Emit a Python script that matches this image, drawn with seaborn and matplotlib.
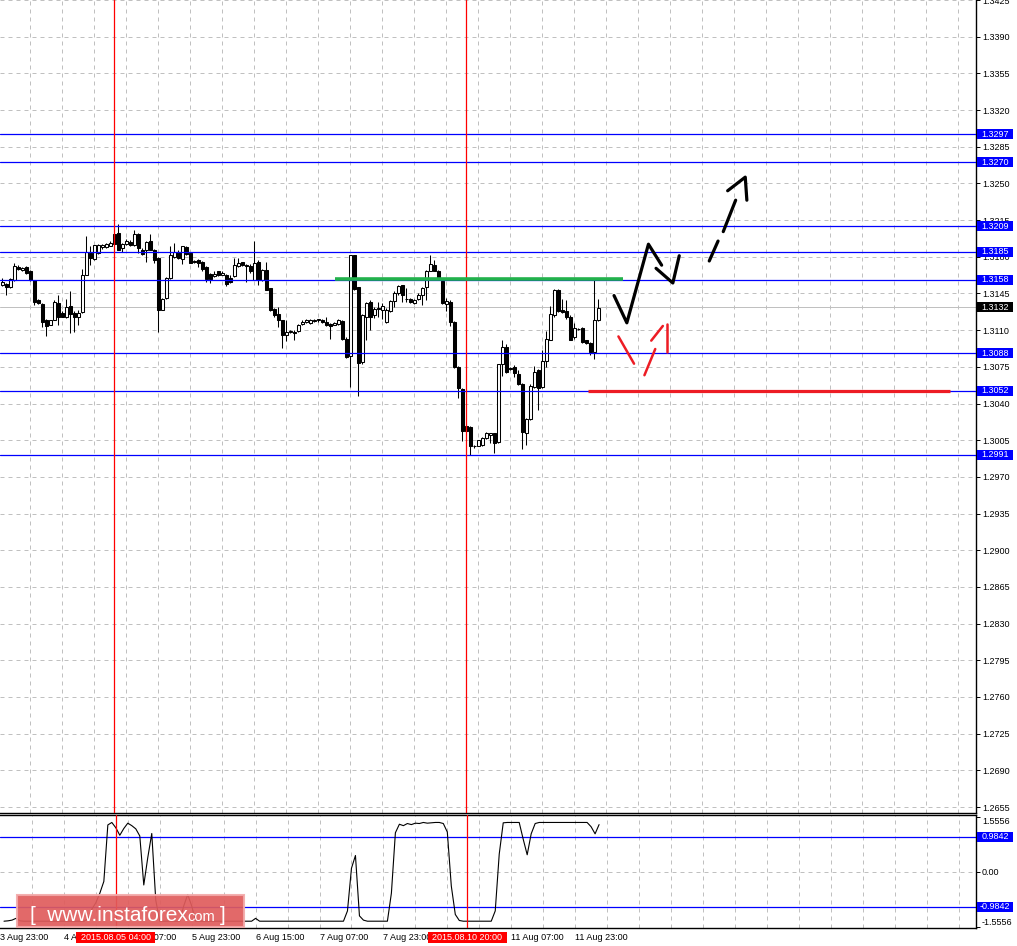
import matplotlib
matplotlib.use("Agg")
import matplotlib.pyplot as plt
from matplotlib.patches import Rectangle
import numpy as np
import pandas as pd
import seaborn as sns

sns.set_style("white")
plt.rcParams['font.family'] = ['Liberation Sans', 'DejaVu Sans']

W, H = 1017, 946

# GBPUSD H1 свечи, цены в пунктах (13153 -> 1.3153)
opens = [13153, 13154, 13151, 13158, 13170, 13167, 13170, 13166, 13158, 13139,
         13135, 13120, 13115, 13120, 13136, 13126, 13123, 13133, 13126, 13123,
         13127, 13163, 13184, 13178, 13184, 13189, 13189, 13190, 13202, 13203,
         13188, 13192, 13194, 13191, 13202, 13186, 13186, 13195, 13186, 13179,
         13129, 13141, 13160, 13180, 13185, 13178, 13189, 13184, 13176, 13177,
         13175, 13170, 13164, 13162, 13166, 13163, 13163, 13160, 13162, 13171,
         13175, 13172, 13171, 13158, 13175, 13158, 13167, 13150, 13130, 13125,
         13120, 13105, 13108, 13108, 13109, 13116, 13118, 13117, 13119, 13120,
         13120, 13118, 13116, 13115, 13116, 13119, 13102, 13085, 13182, 13151,
         13080, 13123, 13137, 13124, 13131, 13129, 13118, 13128, 13138, 13145,
         13153, 13140, 13140, 13136, 13140, 13144, 13151, 13166, 13172, 13166,
         13157, 13135, 13137, 13118, 13075, 13054, 13019, 13018, 12999, 12999,
         13000, 13007, 13010, 13012, 13003, 13078, 13094, 13074, 13075, 13068,
         13059, 13012, 13025, 13056, 13072, 13056, 13081, 13101, 13124, 13148,
         13129, 13128, 13123, 13103, 13111, 13112, 13101, 13098, 13089, 13120]
highs = [13160, 13155, 13160, 13174, 13172, 13170, 13171, 13167, 13158, 13140,
         13136, 13121, 13120, 13139, 13144, 13128, 13140, 13147, 13128, 13129,
         13168, 13200, 13190, 13191, 13192, 13192, 13193, 13195, 13202, 13211,
         13193, 13197, 13196, 13206, 13203, 13188, 13195, 13202, 13187, 13180,
         13141, 13161, 13190, 13193, 13186, 13190, 13190, 13185, 13177, 13178,
         13176, 13171, 13165, 13166, 13166, 13166, 13164, 13163, 13179, 13179,
         13175, 13173, 13173, 13195, 13177, 13168, 13175, 13150, 13131, 13132,
         13120, 13120, 13110, 13110, 13116, 13120, 13121, 13121, 13121, 13121,
         13121, 13123, 13117, 13118, 13121, 13120, 13103, 13182, 13182, 13151,
         13125, 13137, 13139, 13132, 13137, 13136, 13131, 13139, 13147, 13153,
         13153, 13150, 13141, 13140, 13145, 13151, 13167, 13182, 13177, 13167,
         13158, 13141, 13139, 13119, 13076, 13055, 13020, 13019, 13000, 13005,
         13008, 13013, 13012, 13012, 13078, 13101, 13097, 13075, 13077, 13072,
         13060, 13026, 13059, 13076, 13073, 13091, 13109, 13133, 13149, 13149,
         13140, 13139, 13124, 13117, 13112, 13113, 13101, 13099, 13158, 13140]
lows = [13152, 13144, 13150, 13157, 13167, 13166, 13164, 13157, 13134, 13135,
        13113, 13104, 13115, 13120, 13115, 13123, 13122, 13107, 13108, 13115,
        13126, 13163, 13172, 13177, 13183, 13187, 13188, 13190, 13191, 13186,
        13185, 13191, 13190, 13190, 13184, 13182, 13175, 13186, 13174, 13108,
        13129, 13140, 13159, 13179, 13178, 13173, 13182, 13174, 13174, 13170,
        13166, 13156, 13155, 13161, 13162, 13163, 13152, 13155, 13161, 13170,
        13171, 13156, 13165, 13158, 13153, 13157, 13148, 13128, 13123, 13113,
        13093, 13100, 13107, 13101, 13108, 13115, 13117, 13116, 13118, 13118,
        13117, 13114, 13102, 13115, 13115, 13101, 13083, 13056, 13148, 13047,
        13078, 13101, 13110, 13122, 13123, 13121, 13117, 13127, 13132, 13144,
        13137, 13137, 13136, 13135, 13139, 13134, 13139, 13166, 13166, 13159,
        13135, 13128, 13114, 13074, 13045, 13004, 13013, 12991, 12998, 12999,
        12999, 13006, 13002, 12993, 13002, 13066, 13069, 13072, 13065, 13058,
        12997, 13000, 13024, 13055, 13034, 13055, 13075, 13101, 13123, 13127,
        13126, 13121, 13101, 13102, 13110, 13098, 13097, 13086, 13082, 13119]
closes = [13156, 13151, 13159, 13171, 13168, 13169, 13165, 13158, 13137, 13136,
          13118, 13114, 13120, 13137, 13123, 13123, 13132, 13125, 13123, 13126,
          13163, 13185, 13179, 13191, 13191, 13191, 13192, 13193, 13192, 13186,
          13192, 13195, 13191, 13202, 13188, 13183, 13194, 13186, 13177, 13129,
          13140, 13160, 13182, 13185, 13179, 13190, 13183, 13174, 13175, 13174,
          13168, 13159, 13159, 13164, 13163, 13165, 13154, 13156, 13172, 13174,
          13172, 13171, 13166, 13174, 13158, 13167, 13148, 13129, 13124, 13120,
          13105, 13108, 13109, 13107, 13115, 13118, 13120, 13120, 13120, 13120,
          13118, 13115, 13114, 13117, 13120, 13102, 13084, 13182, 13149, 13079,
          13124, 13136, 13123, 13130, 13130, 13133, 13129, 13138, 13145, 13152,
          13144, 13140, 13137, 13139, 13144, 13150, 13166, 13173, 13166, 13160,
          13136, 13138, 13118, 13075, 13055, 13014, 13014, 12999, 12999, 13005,
          13007, 13012, 13012, 13002, 13078, 13094, 13070, 13073, 13069, 13059,
          13013, 13025, 13057, 13070, 13055, 13081, 13102, 13125, 13148, 13128,
          13127, 13123, 13101, 13112, 13111, 13099, 13098, 13089, 13120, 13131]

# индикатор в нижнем окне
ind = [-1.39, -1.38, -1.36, -1.31, -1.38, -1.39, -1.39, -1.39, -1.39, -1.39,
       -1.39, -1.39, -1.39, -1.39, -1.39, -1.39, -1.39, -1.39, -1.39, -1.39,
       -1.39, -1.33, -1.05, -0.87, -0.60, -0.27, 1.32, 1.39, 1.24, 1.03,
       1.22, 1.37, 1.30, 1.21, 1.01, -0.37, 0.40, 1.08, -0.80, -1.39,
       -1.39, -1.39, -1.39, -1.39, -1.39, -0.96, -0.64, -0.96, -1.39, -1.39,
       -1.39, -1.39, -1.39, -1.39, -1.39, -1.39, -1.39, -1.39, -1.39, -1.39,
       -1.39, -1.39, -1.39, -1.31, -1.39, -1.39, -1.39, -1.39, -1.39, -1.39,
       -1.39, -1.39, -1.39, -1.39, -1.39, -1.39, -1.39, -1.39, -1.39, -1.39,
       -1.39, -1.39, -1.39, -1.39, -1.39, -1.39, -1.10, 0.10, 0.46, -1.24,
       -1.36, -1.39, -1.39, -1.39, -1.39, -1.39, -1.39, -0.60, 1.10, 1.34,
       1.30, 1.36, 1.33, 1.37, 1.36, 1.39, 1.37, 1.38, 1.39, 1.39,
       1.36, 1.12, -0.40, -1.20, -1.37, -1.39, -1.39, -1.39, -1.39, -1.39,
       -1.39, -1.39, -1.39, -1.10, 0.50, 1.38, 1.39, 1.39, 1.39, 1.39,
       0.92, 0.48, 1.07, 1.36, 1.39, 1.39, 1.39, 1.39, 1.39, 1.39,
       1.39, 1.39, 1.39, 1.39, 1.39, 1.39, 1.39, 1.27, 1.07, 1.33]

levels = [1.3297, 1.3270, 1.3209, 1.3185, 1.3158, 1.3088, 1.3052, 1.2991]
last_price = 1.3132
price_ticks = [1.3425, 1.3390, 1.3355, 1.3320, 1.3285, 1.3250, 1.3215, 1.3180,
               1.3145, 1.3110, 1.3075, 1.3040, 1.3005, 1.2970, 1.2935, 1.2900,
               1.2865, 1.2830, 1.2795, 1.2760, 1.2725, 1.2690, 1.2655]
ind_levels = [0.9842, -0.9842]
ind_ticks = [1.5556, 0.0, -1.5556]
ind_tick_labels = ["1.5556", "0.00", "-1.5556"]
time_ticks = [-1, 15, 31, 47, 63, 79, 95, 111, 127, 143]
time_labels = ["3 Aug 23:00", "4 Aug 15:00", "5 Aug 07:00", "5 Aug 23:00",
               "6 Aug 15:00", "7 Aug 07:00", "7 Aug 23:00", "10 Aug 15:00",
               "11 Aug 07:00", "11 Aug 23:00"]
grid_bars = list(range(7, 244, 8))
marker_bars = [28, 116]
marker_labels = ["2015.08.05 04:00", "2015.08.10 20:00"]

green_bars, green_level = [83.2, 155.2], 1.3159
support_bars, support_level = [146.4, 237], 1.3052

# сценарии (бар, цена)
black_paths = [
    [(152.9, 1.3143), (156.1, 1.3117), (161.5, 1.3192), (164.8, 1.3172)],
    [(163.4, 1.3169), (167.6, 1.3155), (169.2, 1.3181)],
    [(176.7, 1.3176), (178.9, 1.3195)],
    [(180.2, 1.3204), (183.3, 1.3234)],
    [(181.3, 1.3243), (185.7, 1.3256), (186.1, 1.3234)],
]
red_paths = [
    [(154.0, 1.3104), (157.9, 1.3078)],
    [(160.5, 1.3067), (163.2, 1.3092)],
    [(162.2, 1.3100), (165.1, 1.3114)],
    [(166.2, 1.3116), (166.2, 1.3089)],
]

df = pd.DataFrame({"open": opens, "high": highs, "low": lows, "close": closes}) / 10000
df["bar"] = np.arange(len(df))
df["ind"] = ind
up = df["close"] >= df["open"]

grid_kw = dict(color="#c0c0c0", lw=0.72, ls=(0, (4, 4)), zorder=0.5)
BLUE = "#0000ff"

fig = plt.figure(figsize=(W / 100, H / 100), dpi=100)
ax = fig.add_axes([0, 1 - 812.7 / H, 975.7 / W, 812.7 / H])
ax2 = fig.add_axes([0, 1 - 928.3 / H, 975.7 / W, (928.3 - 815) / H])

# --- основное окно
for k in grid_bars:
    ax.axvline(k, **grid_kw)
for p in price_ticks:
    ax.axhline(p, **grid_kw)
ax.axhline(last_price, color="#c0c0c0", lw=0.72, zorder=0.8)

ax.vlines(df["bar"], df["low"], df["high"], color="black", lw=0.75, zorder=3)
body_lo = df[["open", "close"]].min(axis=1)
body_h = (df["close"] - df["open"]).abs().clip(lower=0.00002)
ax.bar(df["bar"][up], body_h[up], bottom=body_lo[up], width=0.6,
       color="white", edgecolor="black", lw=0.75, zorder=4)
ax.bar(df["bar"][~up], body_h[~up], bottom=body_lo[~up], width=0.6,
       color="black", edgecolor="black", lw=0.75, zorder=4)

for lv in levels:
    ax.axhline(lv, color=BLUE, lw=0.9, zorder=5)
for k in marker_bars:
    ax.axvline(k, color="#ff0000", lw=0.9, zorder=5)

ax.plot(green_bars, [green_level] * 2, color="#22b14c", lw=2.6, zorder=6,
        solid_capstyle="butt")
ax.plot(support_bars, [support_level] * 2, color="#ed1c24", lw=2.3, zorder=6,
        solid_capstyle="butt")
for path in black_paths:
    xs, ys = zip(*path)
    ax.plot(xs, ys, color="black", lw=2.3, zorder=7)
for path in red_paths:
    xs, ys = zip(*path)
    ax.plot(xs, ys, color="#ed1c24", lw=1.8, zorder=7)

ax.set_xlim(-0.58, 243.3)
ax.set_ylim(1.26496, 1.3425)
ax.set_xticks([])
ax.yaxis.tick_right()
ax.set_yticks(price_ticks)
ax.set_yticklabels([f"{p:.4f}" for p in price_ticks])
ax.tick_params(axis="y", length=3, width=0.7, pad=1.5, labelsize=6.5,
               direction="out", colors="black")
for s in ["left", "top"]:
    ax.spines[s].set_visible(False)
for s in ["right", "bottom"]:
    ax.spines[s].set_color("black")
    ax.spines[s].set_linewidth(1)

# --- индикатор
for k in grid_bars:
    ax2.axvline(k, **grid_kw)
ax2.axhline(0, **grid_kw)
for lv in ind_levels:
    ax2.axhline(lv, color=BLUE, lw=0.9, zorder=2)
for k in marker_bars:
    ax2.axvline(k, color="#ff0000", lw=0.9, zorder=5)
sns.lineplot(data=df, x="bar", y="ind", ax=ax2, color="black", lw=0.8, zorder=4)

ax2.set_xlim(-0.58, 243.3)
ax2.set_ylim(-1.59, 1.60)
ax2.set_xlabel("")
ax2.set_ylabel("")
ax2.yaxis.tick_right()
ax2.set_yticks(ind_ticks)
ax2.set_yticklabels(ind_tick_labels)
ax2.tick_params(axis="y", length=3, width=0.7, pad=1.5, labelsize=6.5,
                direction="out", colors="black")
tl = ax2.get_yticklabels()
tl[0].set_va("top")
tl[-1].set_va("bottom")
ax2.set_xticks(time_ticks)
ax2.set_xticklabels(time_labels, ha="left")
ax2.tick_params(axis="x", length=2.5, width=0.7, pad=1, labelsize=6.5,
                direction="out", colors="black")
ax2.spines["left"].set_visible(False)
for s in ["right", "bottom", "top"]:
    ax2.spines[s].set_color("black")
    ax2.spines[s].set_linewidth(1)


# --- метки на шкалах
def tag(axis, value, text, bg):
    ypix = axis.transData.transform((0, value))[1]
    fig.add_artist(Rectangle((977 / W, (ypix - 5) / H), 36 / W, 10 / H,
                             transform=fig.transFigure, fc=bg, ec="none", zorder=5))
    fig.text(995 / W, ypix / H, text, color="white", ha="center", va="center",
             fontsize=6.5, zorder=6)


for lv in levels:
    tag(ax, lv, f"{lv:.4f}", BLUE)
tag(ax, last_price, f"{last_price:.4f}", "black")
for lv in ind_levels:
    tag(ax2, lv, f"{lv:.4f}", BLUE)

for k, lab in zip(marker_bars, marker_labels):
    xpix = ax2.transData.transform((k, 0))[0]
    fig.add_artist(Rectangle(((xpix - 39.5) / W, 1 - 943 / H), 79 / W, 11 / H,
                             transform=fig.transFigure, fc="#ff0000", ec="none", zorder=5))
    fig.text(xpix / W, 1 - 937.5 / H, lab, color="white", ha="center", va="center",
             fontsize=6.5, zorder=6)

# --- водяной знак
fig.add_artist(Rectangle((17 / W, 1 - 927 / H), 227 / W, 32 / H, transform=fig.transFigure,
                         fc="#e05c5c", ec="#f2aaaa", lw=1.5, alpha=0.92, zorder=7))
r = fig.canvas.get_renderer()
base = 1 - 921 / H
t1 = fig.text(30 / W, base, "[  www.instaforex", color="white", fontsize=15,
              va="baseline", ha="left", zorder=8)
bb = t1.get_window_extent(r)
t2 = fig.text(bb.x1 / W, base, "com", color="white", fontsize=10.5,
              va="baseline", ha="left", zorder=8)
bb2 = t2.get_window_extent(r)
fig.text((bb2.x1 + 4) / W, base, "]", color="white", fontsize=15,
         va="baseline", ha="left", zorder=8)

fig.savefig("out.png", dpi=100)
